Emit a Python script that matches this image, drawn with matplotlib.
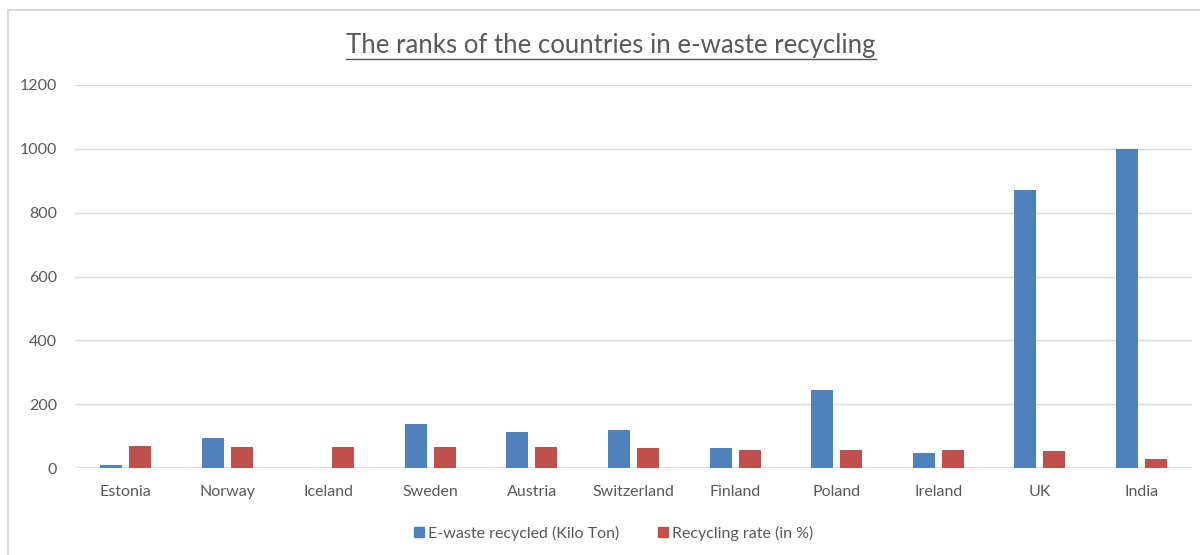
import matplotlib.pyplot as plt
import matplotlib.patches as mpatches
from matplotlib.lines import Line2D
import numpy as np

countries = ["Estonia", "Norway", "Iceland", "Sweden", "Austria", "Switzerland",
             "Finland", "Poland", "Ireland", "UK", "India"]
ewaste_kt = [10, 95, 0, 139, 114, 119, 62, 244, 48, 871, 1000]
rate_pct = [70, 67, 67, 67, 67, 62, 57, 57, 57, 53, 28]
yticks = [0, 200, 400, 600, 800, 1000, 1200]

blue = "#4F81BD"
red = "#C0504D"
grid = "#D9D9D9"
txt = "#595959"

plt.rcParams['font.family'] = ['Lato', 'DejaVu Sans']

fig = plt.figure(figsize=(12, 5.55), dpi=100)
ax = fig.add_axes([75 / 1200, 1 - 468 / 555, 1117 / 1200, (468 - 85) / 555])

x = np.arange(len(countries))
w = 0.217
ax.bar(x - 0.143, ewaste_kt, w, color=blue, zorder=3)
ax.bar(x + 0.143, rate_pct, w, color=red, zorder=3)

ax.set_xlim(-0.5, len(countries) - 0.5)
ax.set_ylim(0, 1200)
ax.set_yticks(yticks)
ax.set_yticklabels([str(v) for v in yticks], color=txt, fontsize=11.5)
ax.set_xticks(x)
ax.set_xticklabels(countries, color=txt, fontsize=11.5)
ax.tick_params(axis='both', length=0)
ax.tick_params(axis='y', pad=13)
ax.tick_params(axis='x', pad=12)
ax.grid(axis='y', color=grid, linewidth=1, zorder=0)
for s in ax.spines.values():
    s.set_visible(False)
ax.axhline(0, color=grid, linewidth=1.2, zorder=2)

# title with underline
title = fig.text(611 / 1200, 1 - 45 / 555, "The ranks of the countries in e-waste recycling",
                 ha='center', va='center', fontsize=18.5, color=txt)
fig.canvas.draw()
bb = title.get_window_extent().transformed(fig.transFigure.inverted())
fig.add_artist(Line2D([bb.x0, bb.x1], [bb.y0 - 0.003, bb.y0 - 0.003],
                      transform=fig.transFigure, color=txt, linewidth=1))

# outer chart border
fig.add_artist(mpatches.Rectangle((8 / 1200, -0.1), 1.2, 1.1 - 10 / 555,
                                  transform=fig.transFigure, fill=False,
                                  edgecolor=grid, linewidth=1.5))

handles = [Line2D([], [], marker='s', linestyle='none', color=blue, markersize=7),
           Line2D([], [], marker='s', linestyle='none', color=red, markersize=7)]
fig.legend(handles, ["E-waste recycled (Kilo Ton)", "Recycling rate (in %)"],
           loc='center', bbox_to_anchor=(0.51, 1 - 533 / 555), ncol=2, frameon=False,
           fontsize=11.5, labelcolor=txt, handletextpad=0.1, columnspacing=2.2,
           handlelength=1)

fig.savefig("out.png", dpi=100, facecolor="white")
